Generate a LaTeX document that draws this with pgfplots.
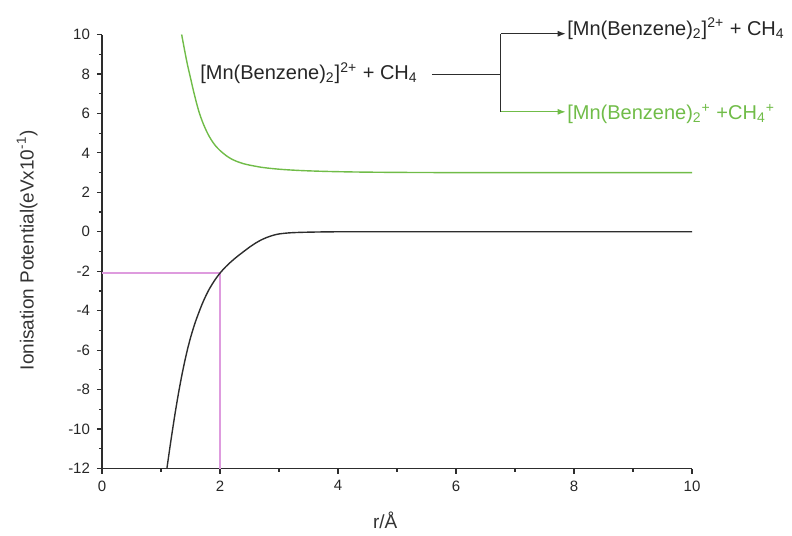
\documentclass[border=0pt]{standalone}
\usepackage{fontspec}
\setmainfont{Liberation Sans}
\usepackage{pgfplots}
\pgfplotsset{compat=1.18}
\usetikzlibrary{arrows.meta}
\definecolor{cgreen}{RGB}{112,188,72}
\definecolor{cpink}{RGB}{222,155,222}
\definecolor{cblack}{RGB}{45,45,45}
\begin{document}
\begin{tikzpicture}
\begin{axis}[
  name=ax,
  scale only axis, width=295pt, height=217pt,
  xmin=0, xmax=10, ymin=-12, ymax=10,
  axis lines=left,
  axis line style={-, line width=0.7pt, color=cblack},
  xtick={0,2,4,6,8,10}, xticklabels={0,2,4,6,8,10},
  ytick={-12,-10,-8,-6,-4,-2,0,2,4,6,8,10},
  yticklabels={-12,-10,-8,-6,-4,-2,0,2,4,6,8,10},
  minor tick num=1,
  tick align=outside,
  major tick length=2.5pt, minor tick length=1.5pt,
  tick style={line width=0.6pt, color=cblack},
  tick label style={font=\fontsize{7.5}{8.5}\selectfont, color=black!85},
  label style={font=\fontsize{9.5}{11}\selectfont, color=black!80},
  xlabel={r/Å},
  ylabel={Ionisation Potential(eVx10\textsuperscript{-1})},
  xlabel style={at={(axis description cs:0.48,-0.119)}, anchor=center},
  ylabel style={at={(axis description cs:-0.127,0.503)}, anchor=center},
  clip=false,
]
\coordinate (ll) at (axis cs:0,-12);
\addplot[cpink, line width=0.75pt] coordinates {(0,-2.1) (2,-2.1) (2,-12)};
\addplot[cblack, line width=0.7pt, smooth] coordinates {
(1.10,-12) (1.15,-10.95) (1.20,-9.95) (1.25,-9.0) (1.30,-8.125) (1.35,-7.325) (1.40,-6.6) (1.45,-5.95) (1.50,-5.375) (1.55,-4.875) (1.60,-4.425) (1.70,-3.645) (1.80,-3.005) (1.90,-2.505) (2.0,-2.095) (2.1,-1.765) (2.2,-1.485) (2.3,-1.235) (2.4,-1.005) (2.5,-0.78) (2.6,-0.58) (2.7,-0.41) (2.8,-0.28) (2.9,-0.18) (3.0,-0.11) (3.2,-0.05) (3.5,-0.02) (4.0,0) (5,0) (6,0) (8,0) (10,0)};
\addplot[cgreen, line width=0.7pt, smooth] coordinates {
(1.35,10) (1.40,9.2) (1.45,8.45) (1.50,7.8) (1.55,7.15) (1.60,6.55) (1.65,6.02) (1.70,5.6) (1.75,5.24) (1.80,4.93) (1.85,4.67) (1.90,4.45) (1.95,4.27) (2.0,4.12) (2.1,3.87) (2.2,3.68) (2.3,3.55) (2.4,3.45) (2.5,3.38) (2.7,3.27) (2.9,3.2) (3.1,3.15) (3.4,3.1) (3.8,3.06) (4.3,3.03) (5,3.01) (6,3.0) (8,3.0) (10,3.0)};
\node[anchor=west, inner sep=0pt, font=\fontsize{10}{12}\selectfont, color=black!85] at (axis cs:1.66,8.05) {[Mn(Benzene)\textsubscript{2}]\textsuperscript{2+} + CH\textsubscript{4}};
\draw[cblack, line width=0.6pt] (axis cs:5.59,7.98) -- (axis cs:6.76,7.98);
\draw[cblack, line width=0.6pt] (axis cs:6.76,10.04) -- (axis cs:6.76,6.08);
\draw[cblack, line width=0.6pt, -{Latex[length=4pt,width=3pt]}] (axis cs:6.76,10.04) -- (axis cs:7.86,10.04);
\draw[cgreen, line width=0.6pt, -{Latex[length=4pt,width=3pt]}] (axis cs:6.76,6.08) -- (axis cs:7.86,6.08);
\node[anchor=west, inner sep=0pt, font=\fontsize{10}{12}\selectfont, color=black!85] at (axis cs:7.88,10.29) {[Mn(Benzene)\textsubscript{2}]\textsuperscript{2+} + CH\textsubscript{4}};
\node[anchor=west, inner sep=0pt, font=\fontsize{10}{12}\selectfont, color=cgreen] at (axis cs:7.88,5.97) {[Mn(Benzene)\textsubscript{2}\textsuperscript{+} +CH\textsubscript{4}\textsuperscript{+}};
\end{axis}
\path (ll) ++(-51pt,-31.75pt) rectangle ++(396pt,266pt);
\end{tikzpicture}
\end{document}
